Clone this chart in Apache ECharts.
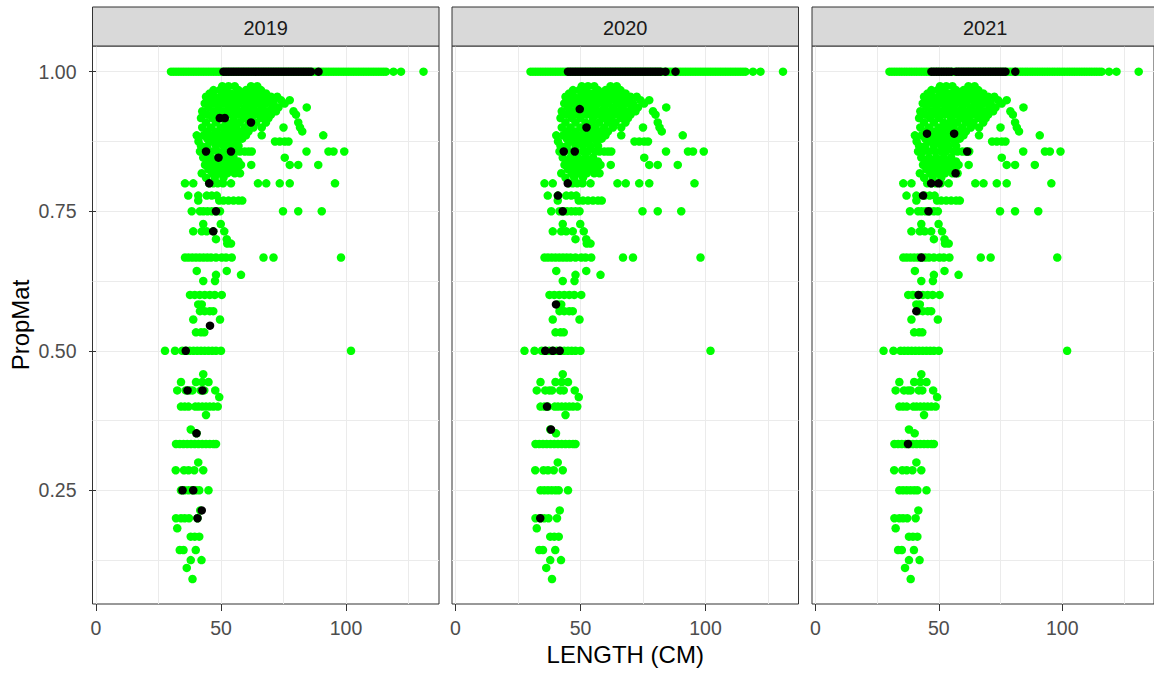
<!DOCTYPE html>
<html>
<head>
<meta charset="utf-8">
<script src="https://cdn.jsdelivr.net/npm/echarts@6/dist/echarts.min.js"></script>
<style>
html,body{margin:0;padding:0;background:#ffffff;}
#chart{width:1154px;height:673px;}
</style>
</head>
<body>
<div id="chart"></div>
<script>
// ---------------- DATA ----------------
const years = ['2019', '2020', '2021'];
const xTickLabels = [0, 50, 100];
const xGridValues = [0, 25, 50, 75, 100, 125];
const yTickLabels = [0.25, 0.5, 0.75, 1.0];
const yGridValues = [0.125, 0.25, 0.375, 0.5, 0.625, 0.75, 0.875, 1.0];

// All years (green): lengths of fish with PropMat = 1
const allMatureLen = [30,31,32,33,34,35,36,37,38,39,40,41,42,43,44,45,46,47,48,49,50,51,52,53,54,55,56,57,58,59,
  60,61,62,63,64,65,66,67,68,69,70,71,72,73,74,75,76,77,78,79,80,81,82,83,84,85,86,87,88,89,
  90,91,92,93,94,95,96,97,98,99,100,101,102,103,104,105,106,107,108,109,110,111,112,113,114,115,116,
  119,122,131];

// All years (green): rows of [PropMat, lengths]
const allHighRows = [
  [0.974, [50.5, 53, 55.5, 62, 64.5]],
  [0.967, [47, 49.5, 52, 57, 60, 63, 66]],
  [0.961, [45.5, 51, 54, 56, 58.5, 61.5, 65, 68]],
  [0.955, [44, 47.5, 50, 53, 57.5, 60, 63.5, 67, 70, 72.5]],
  [0.949, [45.5, 49, 52, 55, 59, 62, 66, 69, 74, 77.5]],
  [0.943, [43.5, 47, 51, 54, 57, 61, 64.5, 68, 71, 75.5]],
  [0.936, [45, 49, 53, 56, 59.5, 63, 66.5, 70.5, 73, 84.3]],
  [0.929, [42.5, 47, 51, 55, 58, 61.5, 65, 68.5, 72, 79]],
  [0.923, [44.5, 49, 52.5, 57, 60, 63.5, 67, 70, 80]],
  [0.917, [42, 46.5, 50, 55, 59, 62, 66, 69]],
  [0.909, [44, 48, 52, 54.5, 57.5, 61, 64, 68, 80.9]],
  [0.9, [42.5, 46, 50, 53, 56, 59.5, 63, 66.3, 75, 81.6]],
  [0.893, [44.5, 48, 51.5, 55, 58, 61, 82.5]],
  [0.886, [40.3, 43, 46.5, 50, 53.5, 57, 60, 66.3, 90.9]],
  [0.88, [44.5, 48, 51.5, 55, 58.5]],
  [0.875, [41, 46, 49.5, 53, 56.5, 71.6, 73.5, 75.5, 77]],
  [0.867, [42, 44.5, 48, 51, 54, 57]],
  [0.857, [41.6, 43.6, 46, 48.5, 51, 53, 56, 57.6, 59.5, 61, 62.3, 84.2, 93, 95, 99.3]]
];
const allMidRows = [
  [0.846, [42.9, 46, 49, 52, 55, 75.5]],
  [0.839, [44.5, 47.5, 50.5, 53.5, 57]],
  [0.833, [43.6, 46, 49, 52.3, 55, 58, 62.1, 77.5, 80.9, 88.9]],
  [0.825, [45, 48, 51, 54, 56.5]],
  [0.818, [42.3, 46.5, 49.5, 52.5, 55.5, 57.6]],
  [0.81, [44, 47.5, 51]],
  [0.8, [35.6, 38.9, 45.3, 46.9, 48.7, 50.8, 54, 64.8, 68.1, 73.5, 77.5, 95.6]],
  [0.778, [36.9, 40.9, 44.3, 46.3, 48.3]],
  [0.769, [40.9, 49.3, 51, 53, 55, 57, 58.5]],
  [0.75, [38.3, 41.6, 43, 44.6, 46.3, 48, 49.6, 74.8, 80.9, 90.3]],
  [0.727, [42.9, 49.9]],
  [0.714, [38.9, 42.3, 44.3, 46.9, 51.3]],
  [0.7, [48, 52.3]],
  [0.692, [52.5, 54]],
  [0.667, [35.6, 37, 38.5, 40, 41.5, 43, 44.5, 46, 48, 50.3, 52, 54.3, 67, 71, 98]],
  [0.643, [40.3, 52.3]],
  [0.636, [48, 58]],
  [0.625, [42.9, 47.6]],
  [0.6, [37.6, 39.5, 41.5, 43.5, 45.5, 47.5, 50.3]],
  [0.583, [40.9, 42.3]],
  [0.571, [41.6, 43.5, 45.5, 46.9]],
  [0.556, [38.9, 49.6]]
];
const allLowRows = [
  [0.533, [40, 42, 43.3]],
  [0.5, [27.6, 31.6, 34.5, 36, 37.5, 39, 40.5, 42, 43.5, 45, 46.5, 48, 50, 102]],
  [0.458, [42.9]],
  [0.444, [34, 40, 42.5, 45]],
  [0.429, [32.5, 35.9, 37.5, 38.6, 41.9, 43.3, 47.7]],
  [0.417, [49.3]],
  [0.4, [34, 35.5, 37, 39.7, 41, 42.5, 44, 45.5, 47, 48.7]],
  [0.385, [44]],
  [0.359, [37.9]],
  [0.352, [40.2]],
  [0.333, [32, 33.5, 35, 36.5, 38, 39.5, 41, 42.5, 44, 45.5, 47, 48]],
  [0.3, [40.9]],
  [0.286, [31.9, 35.2, 37, 39.3, 42.9]],
  [0.25, [34, 35.5, 37, 38.5, 40, 41.3, 45]],
  [0.214, [41.7]],
  [0.2, [32, 34, 35.5, 37.2, 40.6]],
  [0.182, [32.5]],
  [0.167, [37.9, 39.5, 41.3]],
  [0.143, [33.5, 35, 39.9]],
  [0.125, [37.9, 42.2]],
  [0.111, [36.3]],
  [0.091, [38.6]]
];

// Each year (black)
const mature2019 = [51,52,53,54,55,56,57,58,59,60,61,62,63,64,65,66,67,68,69,70,71,72,73,74,75,76,77,78,79,80,81,82,83,84,85,86,89];
const other2019 = [[49.5,0.917],[51.5,0.917],[62,0.909],[44,0.857],[54,0.857],[49,0.846],[45.3,0.8],[48,0.75],[46.9,0.714],
  [45.6,0.545],[35.9,0.5],[36.6,0.429],[42.6,0.429],[40.2,0.352],[34.6,0.25],[38.9,0.25],[42.3,0.214],[40.6,0.2]];
const mature2020 = [45,46,47,48,49,50,51,52,53,54,55,56,57,58,59,60,61,62,63,64,65,66,67,68,69,70,71,72,73,74,75,76,77,78,79,80,81,82,84,88];
const other2020 = [[49.7,0.933],[52.4,0.9],[43.3,0.857],[47.7,0.857],[44.9,0.8],[41,0.778],[42.9,0.75],[40.2,0.583],
  [35.9,0.5],[38.9,0.5],[41.7,0.5],[36.6,0.4],[38.2,0.359],[33.9,0.2]];
const mature2021 = [47,48,49,50,51,52,53,54,55,57,58,59,60,61,62,63,64,65,66,67,68,69,70,71,72,73,74,75,76,77,81];
const other2021 = [[45.2,0.889],[56.2,0.889],[61.5,0.857],[56.8,0.818],[46.9,0.8],[49.9,0.8],[43.6,0.778],[45.8,0.75],
  [42.9,0.667],[41.8,0.6],[40.9,0.571],[37.5,0.333]];

// ---------------- LAYOUT ----------------
const FONT = '"Liberation Sans", Arial, Helvetica, sans-serif';
const PANEL_LEFT = [92.5, 452, 812];
const PANEL_W = 346.5;
const PANEL_TOP = 46;
const PANEL_H = 558;
const STRIP_TOP = 7;
const X_MIN = -1.4, X_MAX = 137.2;
const Y_MIN = 0.0463, Y_MAX = 1.046;

function rowsToPoints(rows) {
  const out = [];
  rows.forEach(r => r[1].forEach(len => out.push([len, r[0]])));
  return out;
}
const greenPoints = allMatureLen.map(l => [l, 1])
  .concat(rowsToPoints(allHighRows), rowsToPoints(allMidRows), rowsToPoints(allLowRows));
const blackPoints = [
  mature2019.map(l => [l, 1]).concat(other2019),
  mature2020.map(l => [l, 1]).concat(other2020),
  mature2021.map(l => [l, 1]).concat(other2021)
];

const grids = [], xAxes = [], yAxes = [], series = [], graphics = [];
years.forEach((yr, i) => {
  grids.push({
    left: PANEL_LEFT[i], top: PANEL_TOP, width: PANEL_W, height: PANEL_H,
    show: true, borderColor: '#333333', borderWidth: 1, backgroundColor: '#ffffff'
  });
  xAxes.push({
    gridIndex: i, type: 'value', min: X_MIN, max: X_MAX, position: 'top',
    axisLine: { show: false }, axisLabel: { show: false },
    axisTick: { show: false, customValues: xGridValues },
    splitLine: { show: true, lineStyle: { color: '#EBEBEB', width: 1 } }
  });
  xAxes.push({
    gridIndex: i, type: 'value', min: X_MIN, max: X_MAX, position: 'bottom',
    axisLine: { show: false },
    axisTick: { show: true, length: 7, customValues: xTickLabels, lineStyle: { color: '#333333', width: 1 } },
    axisLabel: { show: true, customValues: xTickLabels, color: '#4D4D4D', fontSize: 19.5, fontFamily: FONT, margin: 14 },
    splitLine: { show: false }
  });
  yAxes.push({
    gridIndex: i, type: 'value', min: Y_MIN, max: Y_MAX, position: 'right',
    axisLine: { show: false }, axisLabel: { show: false },
    axisTick: { show: false, customValues: yGridValues },
    splitLine: { show: true, lineStyle: { color: '#EBEBEB', width: 1 } }
  });
  yAxes.push({
    gridIndex: i, type: 'value', min: Y_MIN, max: Y_MAX, position: 'left',
    axisLine: { show: false },
    axisTick: { show: i === 0, length: 7, customValues: yTickLabels, lineStyle: { color: '#333333', width: 1 } },
    axisLabel: { show: i === 0, customValues: yTickLabels, color: '#4D4D4D', fontSize: 19.5, fontFamily: FONT, margin: 16,
      formatter: v => Number(v).toFixed(2) },
    splitLine: { show: false }
  });
  series.push({
    type: 'scatter', name: 'All years', xAxisIndex: 2 * i + 1, yAxisIndex: 2 * i + 1,
    data: greenPoints, symbol: 'circle', symbolSize: 8.5, silent: true, z: 2,
    itemStyle: { color: '#00FF00', opacity: 1 }
  });
  series.push({
    type: 'scatter', name: yr, xAxisIndex: 2 * i + 1, yAxisIndex: 2 * i + 1,
    data: blackPoints[i], symbol: 'circle', symbolSize: 8.5, silent: true, z: 3,
    itemStyle: { color: '#000000', opacity: 1 }
  });
  graphics.push({
    type: 'rect', z: 10,
    shape: { x: PANEL_LEFT[i], y: STRIP_TOP, width: PANEL_W, height: PANEL_TOP - STRIP_TOP },
    style: { fill: '#D9D9D9', stroke: '#333333', lineWidth: 1 }
  });
  graphics.push({
    type: 'text', z: 11, x: PANEL_LEFT[i] + PANEL_W / 2, y: 28,
    style: { text: yr, fill: '#1A1A1A', fontSize: 20, fontFamily: FONT,
      align: 'center', verticalAlign: 'middle', textAlign: 'center', textVerticalAlign: 'middle' }
  });
});

graphics.push({
  type: 'text', z: 11, x: 20, y: PANEL_TOP + PANEL_H / 2, rotation: Math.PI / 2,
  style: { text: 'PropMat', fill: '#000000', fontSize: 24, fontFamily: FONT,
    align: 'center', verticalAlign: 'middle', textAlign: 'center', textVerticalAlign: 'middle' }
});
graphics.push({
  type: 'text', z: 11, x: PANEL_LEFT[1] + PANEL_W / 2, y: 654,
  style: { text: 'LENGTH (CM)', fill: '#000000', fontSize: 24, fontFamily: FONT,
    align: 'center', verticalAlign: 'middle', textAlign: 'center', textVerticalAlign: 'middle' }
});

const chart = echarts.init(document.getElementById('chart'), null, { renderer: 'svg', width: 1154, height: 673 });
chart.setOption({
  animation: false,
  backgroundColor: '#ffffff',
  textStyle: { fontFamily: FONT },
  grid: grids,
  xAxis: xAxes,
  yAxis: yAxes,
  series: series,
  graphic: graphics
});
</script>
</body>
</html>
